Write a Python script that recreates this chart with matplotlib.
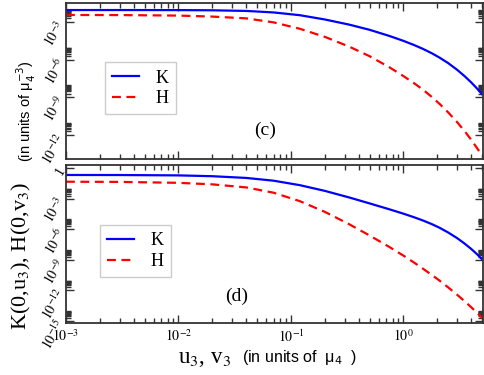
import numpy as np
import matplotlib
matplotlib.use("Agg")
import matplotlib.pyplot as plt
from matplotlib.ticker import FixedLocator, LogLocator, NullFormatter

# x values (u3, v3) in units of mu4
x = np.array([1e-3, 3e-3, 1e-2, 2e-2, 4e-2, 0.07, 0.12, 0.2, 0.33, 0.5, 0.75,
              1.0, 1.25, 1.5, 1.8, 2.1, 2.5, 3.0, 3.5, 4.0, 4.5, 5.0])

# panel (c): K and H (exponents)
k_c = 10 ** np.array([-2.06, -2.06, -2.065, -2.08, -2.13, -2.25, -2.47, -2.81, -3.22,
                      -3.63, -4.12, -4.51, -4.85, -5.16, -5.51, -5.85, -6.28, -6.81,
                      -7.32, -7.81, -8.29, -8.75])
h_c = 10 ** np.array([-2.45, -2.46, -2.5, -2.58, -2.72, -3.04, -3.55, -4.19, -4.97,
                      -5.73, -6.61, -7.31, -7.89, -8.41, -8.99, -9.53, -10.2, -10.97,
                      -11.69, -12.37, -13.02, -13.65])

# panel (d)
k_d = 10 ** np.array([-0.68, -0.685, -0.72, -0.8, -0.97, -1.24, -1.68, -2.24, -2.89,
                      -3.47, -4.05, -4.48, -4.84, -5.16, -5.52, -5.87, -6.33, -6.88,
                      -7.42, -7.94, -8.45, -8.96])
h_d = 10 ** np.array([-1.34, -1.36, -1.45, -1.6, -1.9, -2.42, -3.25, -4.3, -5.52,
                      -6.62, -7.75, -8.6, -9.3, -9.9, -10.52, -11.06, -11.72, -12.44,
                      -13.08, -13.66, -14.2, -14.7])

xticks = [1e-3, 1e-2, 1e-1, 1e0]
xticklabels = ["$10^{-3}$", "$10^{-2}$", "$10^{-1}$", "$10^{0}$"]
yticks_c = [1e-3, 1e-6, 1e-9, 1e-12]
yticklabels_c = ["$10^{-3}$", "$10^{-6}$", "$10^{-9}$", "$10^{-12}$"]
yticks_d = [1e0, 1e-3, 1e-6, 1e-9, 1e-12, 1e-15]
yticklabels_d = ["1", "$10^{-3}$", "$10^{-6}$", "$10^{-9}$", "$10^{-12}$", "$10^{-15}$"]

plt.rcParams["font.family"] = ["Liberation Serif", "DejaVu Serif"]
plt.rcParams["mathtext.fontset"] = "stix"

fig = plt.figure(figsize=(4.85, 3.75), dpi=100)
ax_c = fig.add_axes([0.136, 0.576, 0.860, 0.416])
ax_d = fig.add_axes([0.136, 0.139, 0.860, 0.421])

spine_col = "#333333"


def style(ax, k, h, yticks, ylabels, ylim, label, lab_xy, leg_xy, show_x):
    ax.plot(x, k, color="blue", lw=1.6, label="K")
    ax.plot(x, h, color="red", lw=1.6, ls=(0, (4, 2.5)), label="H")
    ax.set_xscale("log")
    ax.set_yscale("log")
    ax.set_xlim(1e-3, 5.1)
    ax.set_ylim(*ylim)
    ax.xaxis.set_major_locator(FixedLocator(xticks))
    ax.xaxis.set_minor_locator(LogLocator(base=10, subs=np.arange(2, 10)))
    ax.xaxis.set_minor_formatter(NullFormatter())
    if show_x:
        ax.set_xticklabels(xticklabels, fontsize=10)
    else:
        ax.set_xticklabels([])
    ax.yaxis.set_major_locator(FixedLocator(yticks))
    minors = [s * t for t in yticks for s in range(2, 10)]
    ax.yaxis.set_minor_locator(FixedLocator(minors))
    ax.yaxis.set_minor_formatter(NullFormatter())
    ax.set_yticklabels(ylabels, fontsize=10, rotation=60, ha="right", va="center",
                       rotation_mode="anchor")
    ax.tick_params(which="both", direction="in", top=True, right=True, colors=spine_col,
                   labelcolor="black")
    ax.tick_params(which="major", length=6, width=1)
    ax.tick_params(which="minor", length=3.5, width=1)
    ax.tick_params(axis="y", which="major", pad=3)
    ax.tick_params(axis="x", which="major", pad=4)
    for sp in ax.spines.values():
        sp.set_color(spine_col)
        sp.set_linewidth(1.3)
    ax.text(lab_xy[0], lab_xy[1], label, transform=ax.transAxes, fontsize=14,
            ha="center", va="center")
    leg = ax.legend(loc="upper left", bbox_to_anchor=leg_xy, fontsize=13,
                    handlelength=1.5, labelspacing=0.2, borderpad=0.4,
                    handletextpad=0.9, borderaxespad=0, fancybox=False, framealpha=1)
    leg.get_frame().set_edgecolor("#cccccc")
    leg.get_frame().set_linewidth(1.0)


style(ax_c, k_c, h_c, yticks_c, yticklabels_c, (10 ** -13.9, 10 ** -1.5), "(c)",
      (0.477, 0.186), (0.094, 0.62), False)
style(ax_d, k_d, h_d, yticks_d, yticklabels_d, (10 ** -15.2, 10 ** 0.3), "(d)",
      (0.41, 0.171), (0.082, 0.62), True)

# axis labels: serif part + sans "in units" part
fig.text(178 / 485, 1 - 363 / 375, "u$_3$, v$_3$", fontsize=16.5, ha="left",
         va="baseline")
fig.text(242 / 485, 1 - 362 / 375, "(in units of  μ$_4$  )", fontsize=11.5,
         ha="left", va="baseline", family=["Liberation Sans", "DejaVu Sans"],
         math_fontfamily="dejavusans")
fig.text(21 / 485, 1 - 330 / 375, "K(0,u$_3$), H(0,v$_3$)", fontsize=16,
         rotation=90, ha="center", va="bottom")
fig.text(26 / 485, 1 - 162 / 375, "(in units of μ$_4^{-3}$)", fontsize=10.5,
         rotation=90, ha="center", va="bottom",
         family=["Liberation Sans", "DejaVu Sans"], math_fontfamily="dejavusans")

fig.savefig("out.png", dpi=100)
